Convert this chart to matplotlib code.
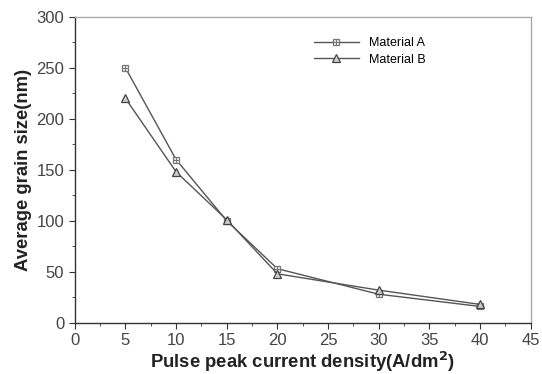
import matplotlib
matplotlib.use("Agg")
import matplotlib.pyplot as plt
from matplotlib.ticker import MultipleLocator
from matplotlib.lines import Line2D

plt.rcParams["font.family"] = ["Liberation Sans", "DejaVu Sans"]

# datos
density = [5, 10, 15, 20, 30, 40]
size_a = [250, 160, 100, 53, 28, 16]
size_b = [220, 148, 101, 48, 32, 18]
labels = ["Material A", "Material B"]

LINEA = "#555555"

fig = plt.figure(figsize=(5.42, 3.74), dpi=100)
ax = fig.add_axes([0.138, 0.137, 0.841, 0.818])

estilo_a = dict(color=LINEA, lw=1.0, marker="s", ms=5, mfc="#f4f4f4",
                mec="#777777", mew=0.9)
estilo_cruz = dict(ls="none", marker="+", ms=4, mec="#777777", mew=0.8)
estilo_b = dict(color=LINEA, lw=1.0, marker="^", ms=6, mfc="#cccccc",
                mec="#444444", mew=0.9)

ax.plot(density, size_a, **estilo_a)
ax.plot(density, size_a, **estilo_cruz)
ax.plot(density, size_b, **estilo_b)

ax.set_xlim(0, 45)
ax.set_ylim(0, 300)
ax.xaxis.set_major_locator(MultipleLocator(5))
ax.xaxis.set_minor_locator(MultipleLocator(2.5))
ax.yaxis.set_major_locator(MultipleLocator(50))
ax.yaxis.set_minor_locator(MultipleLocator(25))
ax.tick_params(which="both", direction="out", colors="#333333", labelsize=12,
               labelcolor="#444444")
ax.tick_params(which="major", length=4)
ax.tick_params(which="minor", length=2.5)
for s in ax.spines.values():
    s.set_color("#333333")
    s.set_linewidth(1.0)
ax.spines["top"].set_color("#aaaaaa")
ax.spines["right"].set_color("#aaaaaa")

ax.set_xlabel("Pulse peak current density(A/dm$^\\mathbf{2}$)", fontsize=13.3,
              fontweight="bold", color="#222222", labelpad=1)
ax.set_ylabel("Average grain size(nm)", fontsize=13.3, fontweight="bold",
              color="#222222", labelpad=3)

h_a = (Line2D([], [], **estilo_a), Line2D([], [], **estilo_cruz))
h_b = Line2D([], [], **estilo_b)
ax.legend([h_a, h_b], labels, loc="upper left", bbox_to_anchor=(0.5, 0.97),
          frameon=False, handlelength=3.6, handletextpad=0.8,
          labelspacing=0.35, prop={"family": "Liberation Sans", "size": 9})

fig.savefig("out.png", dpi=100)
